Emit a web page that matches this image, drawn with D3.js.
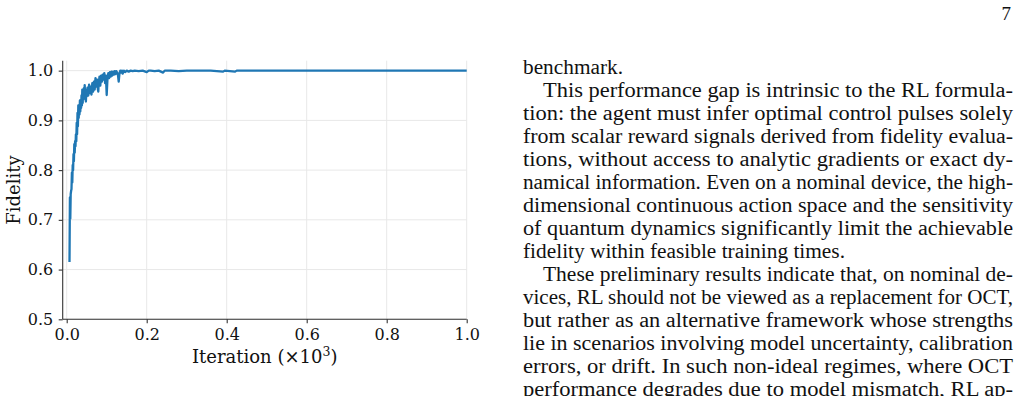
<!DOCTYPE html>
<html>
<head>
<meta charset="utf-8">
<script src="https://cdn.jsdelivr.net/npm/d3@7"></script>
<style>
  html, body { margin: 0; padding: 0; background: #fff; }
  svg { display: block; }
</style>
</head>
<body>
<svg id="chart" width="1019" height="396"></svg>
<script>
// ---- data (iteration, in iterations; fidelity) ----
const iterations = [
  7, 8, 9, 10, 11, 12, 13, 14, 15, 16, 17, 18, 19, 20, 21, 22, 23, 24, 25, 26,
  27, 28, 29, 30, 31, 32, 33, 34, 35, 36, 37, 38, 39, 40, 41, 42, 43, 44, 45, 46,
  47, 48, 49, 50, 52, 54, 56, 58, 60, 62, 64, 66, 68, 70, 72, 74, 76, 78, 79, 80,
  82, 84, 86, 88, 90, 92, 94, 96, 98, 100, 102, 104, 106, 108, 110, 112, 114, 116, 118, 120,
  122, 124, 126, 128, 130, 132, 134, 136, 138, 140, 143, 146, 150, 155, 160, 165, 170, 180, 190, 200,
  205, 210, 220, 230, 241, 245, 260, 280, 300, 330, 360, 391, 395, 421, 425, 460, 500, 600, 700, 800,
  900, 1000
];
const fidelity = [
  0.615, 0.745, 0.702, 0.752, 0.758, 0.762, 0.795, 0.775, 0.810, 0.800, 0.832, 0.818, 0.852, 0.835, 0.858, 0.848, 0.872, 0.858, 0.895, 0.872,
  0.915, 0.888, 0.930, 0.905, 0.925, 0.912, 0.940, 0.918, 0.935, 0.925, 0.950, 0.930, 0.962, 0.935, 0.955, 0.942, 0.965, 0.945, 0.971, 0.950,
  0.962, 0.938, 0.958, 0.948, 0.966, 0.950, 0.972, 0.955, 0.968, 0.952, 0.975, 0.958, 0.978, 0.962, 0.985, 0.968, 0.982, 0.962, 0.958, 0.975,
  0.988, 0.970, 0.990, 0.978, 0.992, 0.982, 0.995, 0.975, 0.990, 0.951, 0.985, 0.995, 0.985, 0.997, 0.988, 0.998, 0.990, 0.998, 0.992, 0.999,
  0.993, 0.999, 0.996, 0.992, 0.978, 0.995, 1.000, 0.996, 1.000, 0.994, 1.000, 0.997, 1.000, 0.998, 1.000, 0.999, 1.000, 0.999, 1.000, 0.997,
  1.000, 1.000, 0.999, 1.000, 0.996, 1.000, 1.000, 0.999, 1.000, 1.000, 1.000, 0.998, 1.000, 0.998, 1.000, 1.000, 1.000, 1.000, 1.000, 1.000,
  1.000, 1.000
];
const xTicks = [0.0, 0.2, 0.4, 0.6, 0.8, 1.0];
const yTicks = [0.5, 0.6, 0.7, 0.8, 0.9, 1.0];
const xLabel = "Iteration";
const yLabel = "Fidelity";

// ---- page text (right column) ----
const pageNumber = "7";
const textLines = [
  { t: "benchmark.", indent: false, justify: false },
  { t: "This performance gap is intrinsic to the RL formula-", indent: true, justify: true },
  { t: "tion: the agent must infer optimal control pulses solely", indent: false, justify: true },
  { t: "from scalar reward signals derived from fidelity evalua-", indent: false, justify: true },
  { t: "tions, without access to analytic gradients or exact dy-", indent: false, justify: true },
  { t: "namical information. Even on a nominal device, the high-", indent: false, justify: true },
  { t: "dimensional continuous action space and the sensitivity", indent: false, justify: true },
  { t: "of quantum dynamics significantly limit the achievable", indent: false, justify: true },
  { t: "fidelity within feasible training times.", indent: false, justify: false },
  { t: "These preliminary results indicate that, on nominal de-", indent: true, justify: true },
  { t: "vices, RL should not be viewed as a replacement for OCT,", indent: false, justify: true },
  { t: "but rather as an alternative framework whose strengths", indent: false, justify: true },
  { t: "lie in scenarios involving model uncertainty, calibration", indent: false, justify: true },
  { t: "errors, or drift. In such non-ideal regimes, where OCT", indent: false, justify: true },
  { t: "performance degrades due to model mismatch, RL ap-", indent: false, justify: true }
];

const svg = d3.select("#chart");

// ---- chart ----
const pLeft = 62.7, pRight = 466.7, pTop = 60.7, pBottom = 319.3;
const x = d3.scaleLinear().domain([-0.01, 1.0]).range([pLeft, pRight]);
const y = d3.scaleLinear().domain([0.5, 1.02]).range([pBottom, pTop]);

const tickFont = "DejaVu Serif";
const tickSize = "16px";

// grid
const grid = svg.append("g");
grid.selectAll("line.gx").data(xTicks).join("line")
  .attr("x1", d => x(d)).attr("x2", d => x(d))
  .attr("y1", pTop).attr("y2", pBottom)
  .attr("stroke", "#e8e8e8").attr("stroke-width", 1);
grid.selectAll("line.gy").data(yTicks).join("line")
  .attr("x1", pLeft).attr("x2", pRight)
  .attr("y1", d => y(d)).attr("y2", d => y(d))
  .attr("stroke", "#e8e8e8").attr("stroke-width", 1);

// line
const pts = iterations.map((it, i) => [it / 1000, fidelity[i]]);
svg.append("path")
  .datum(pts)
  .attr("fill", "none")
  .attr("stroke", "#1f77b4")
  .attr("stroke-width", 2.3)
  .attr("stroke-linejoin", "round")
  .attr("d", d3.line().x(d => x(d[0])).y(d => y(d[1])));

// axes
const xAxis = d3.axisBottom(x).tickValues(xTicks).tickFormat(d3.format(".1f")).tickSize(4).tickPadding(5);
const yAxis = d3.axisLeft(y).tickValues(yTicks).tickFormat(d3.format(".1f")).tickSize(4).tickPadding(5.5);

const gx = svg.append("g").attr("transform", `translate(0,${pBottom})`).call(xAxis);
const gy = svg.append("g").attr("transform", `translate(${pLeft},0)`).call(yAxis);
[gx, gy].forEach(g => {
  g.select(".domain").attr("stroke", "#333").attr("stroke-width", 1.1);
  g.selectAll(".tick line").attr("stroke", "#333").attr("stroke-width", 1.1);
  g.selectAll(".tick text").attr("fill", "#111")
    .style("font-family", tickFont).style("font-size", tickSize);
});
gx.select(".domain").attr("d", `M${pLeft},0H${pRight}`);
gy.select(".domain").attr("d", `M0,${pTop}V${pBottom}`);

// axis labels
const xl = svg.append("text")
  .attr("x", (pLeft + pRight) / 2).attr("y", 363)
  .attr("text-anchor", "middle")
  .style("font-family", tickFont).style("font-size", "18px").attr("fill", "#111");
xl.append("tspan").text(xLabel + " (×10");
xl.append("tspan").attr("dy", -7).style("font-size", "12.5px").text("3");
xl.append("tspan").attr("dy", 7).text(")");

svg.append("text")
  .attr("transform", `translate(20,${(pTop + pBottom) / 2}) rotate(-90)`)
  .attr("text-anchor", "middle")
  .style("font-family", tickFont).style("font-size", "18px").attr("fill", "#111")
  .text(yLabel);

// ---- page text ----
const textFont = "Liberation Serif";
svg.append("text")
  .attr("x", 1011).attr("y", 19.5).attr("text-anchor", "end")
  .style("font-family", textFont).style("font-size", "19px").attr("fill", "#111")
  .text(pageNumber);

const colLeft = 523, colRight = 1013, indentW = 20, base0 = 74, lineSkip = 23.0;
const natural = { "benchmark.": 100, "fidelity within feasible training times.": 322 };
svg.append("g").selectAll("text").data(textLines).join("text")
  .attr("x", d => colLeft + (d.indent ? indentW : 0))
  .attr("y", (d, i) => base0 + i * lineSkip)
  .attr("textLength", d => d.justify ? colRight - colLeft - (d.indent ? indentW : 0) : natural[d.t])
  .attr("lengthAdjust", "spacingAndGlyphs")
  .style("font-family", textFont).style("font-size", "20px").attr("fill", "#111")
  .text(d => d.t);
</script>
</body>
</html>
